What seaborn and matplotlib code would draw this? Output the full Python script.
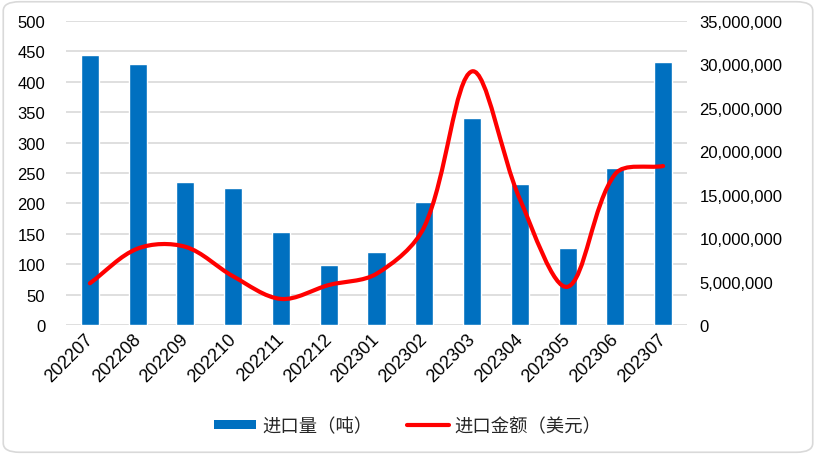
import numpy as np
import pandas as pd
import matplotlib
matplotlib.use('Agg')
import matplotlib.pyplot as plt
from matplotlib.path import Path
from matplotlib.patches import PathPatch, FancyBboxPatch, Patch
from matplotlib.lines import Line2D
from matplotlib.ticker import FuncFormatter, MultipleLocator
from matplotlib.transforms import ScaledTranslation
import seaborn as sns

# data
months = ['202207', '202208', '202209', '202210', '202211', '202212', '202301',
          '202302', '202303', '202304', '202305', '202306', '202307']
volume_t = [444, 429, 235, 225, 153, 99, 120, 202, 340, 232, 127, 258, 432]
value_usd = [4.8e6, 8.8e6, 9.0e6, 5.6e6, 3.0e6, 4.6e6, 5.9e6,
             11.3e6, 29.2e6, 14.5e6, 4.4e6, 17.4e6, 18.3e6]

df = pd.DataFrame({'month': months, 'volume': volume_t, 'value': value_usd})

sns.set_theme(style='white')
plt.rcParams['font.family'] = ['Liberation Sans', 'Noto Sans CJK SC', 'DejaVu Sans']

fig = plt.figure(figsize=(8.16, 4.56), dpi=100)
# rounded chart border
fig.patches.append(FancyBboxPatch((0.004, 0.006), 0.992, 0.988,
                                  boxstyle='round,pad=0,rounding_size=0.02',
                                  transform=fig.transFigure, fill=False,
                                  edgecolor='#D9D9D9', linewidth=1.2))

ax = fig.add_axes([66 / 816, 1 - 326 / 456, 621 / 816, 304 / 456])
sns.barplot(data=df, x='month', y='volume', color='#0070C0', saturation=1,
            width=0.38, ax=ax, zorder=2)
ax.set_xlim(-0.5, len(months) - 0.5)
ax.set_ylim(0, 500)
ax.yaxis.set_major_locator(MultipleLocator(50))
ax.grid(axis='y', color='#D9D9D9', linewidth=1.2, zorder=0)
ax.set_axisbelow(True)
for s in ax.spines.values():
    s.set_visible(False)
ax.set_xlabel('')
ax.set_ylabel('')
ax.tick_params(axis='y', length=0, labelsize=12, pad=15, colors='black')
ax.tick_params(axis='x', length=0, labelsize=13, pad=4, colors='black')
shift = ScaledTranslation(-4 / 72, 0, fig.dpi_scale_trans)
for lbl in ax.get_xticklabels():
    lbl.set_rotation(45)
    lbl.set_ha('right')
    lbl.set_rotation_mode('anchor')
    lbl.set_transform(lbl.get_transform() + shift)

ax2 = ax.twinx()
ax2.set_xlim(-0.5, len(months) - 0.5)
ax2.set_ylim(0, 35e6)
ax2.yaxis.set_major_locator(MultipleLocator(5e6))
ax2.yaxis.set_major_formatter(FuncFormatter(lambda v, p: f'{int(v):,}'))
ax2.tick_params(axis='y', length=0, labelsize=12, pad=9, colors='black')
for s in ax2.spines.values():
    s.set_visible(False)
ax2.grid(False)

# smoothed line, Excel-like: Bezier through the points, built in screen space
xs = np.arange(len(months), dtype=float)
pts = ax2.transData.transform(np.column_stack([xs, value_usd]))
n = len(pts)
ctrl_out, ctrl_in = [], []
for i in range(n):
    prev = pts[i - 1] if i > 0 else pts[i]
    nxt = pts[i + 1] if i < n - 1 else pts[i]
    d = nxt - prev
    lp = np.hypot(*(pts[i] - prev))
    ln = np.hypot(*(nxt - pts[i]))
    tot = lp + ln if lp + ln > 0 else 1
    ctrl_out.append(pts[i] + d * ln / tot / 3)
    ctrl_in.append(pts[i] - d * lp / tot / 3)
verts = [pts[0]]
codes = [Path.MOVETO]
for i in range(n - 1):
    verts += [ctrl_out[i], ctrl_in[i + 1], pts[i + 1]]
    codes += [Path.CURVE4] * 3
verts = ax2.transData.inverted().transform(np.array(verts))
ax2.add_patch(PathPatch(Path(verts, codes), fill=False, edgecolor='#FF0000',
                        linewidth=3.0, capstyle='round', joinstyle='round', zorder=3))

handles = [Patch(facecolor='#0070C0', edgecolor='none'),
           Line2D([0], [0], color='#FF0000', linewidth=3.0, solid_capstyle='round')]
fig.legend(handles, ['进口量（吨）', '进口金额（美元）'], loc='center',
           bbox_to_anchor=(0.5, 1 - 427 / 456), ncol=2, frameon=False,
           prop={'family': ['Noto Sans CJK SC', 'DejaVu Sans'], 'size': 13.2},
           handlelength=2.3, handleheight=0.42, columnspacing=1.9, handletextpad=0.3)

fig.savefig('out.png', dpi=100)
